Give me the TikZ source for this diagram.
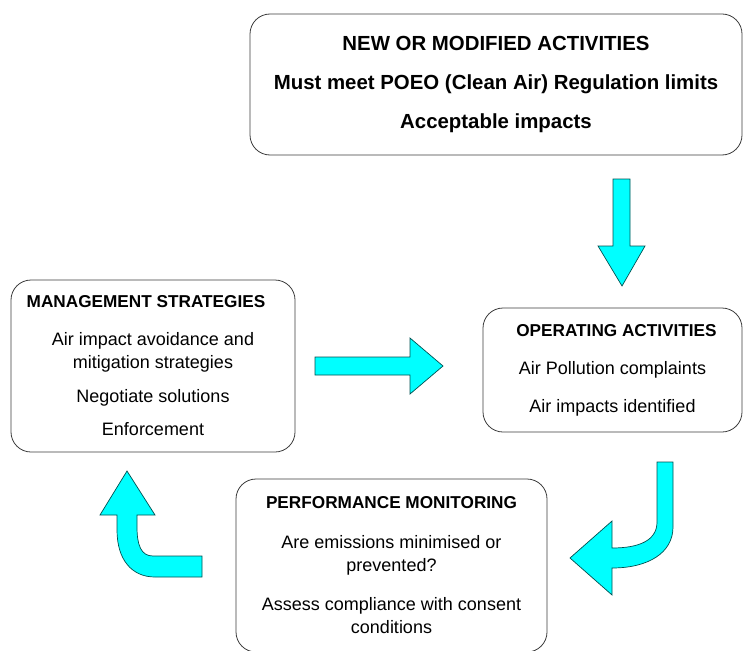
\documentclass[tikz,border=0pt]{standalone}
\usepackage{fontspec}
\setmainfont{Liberation Sans}
\definecolor{arrowfill}{RGB}{0,255,255}
\definecolor{arrowline}{RGB}{0,80,80}
\definecolor{boxline}{RGB}{60,60,60}
\newcommand{\boxtitle}[1]{{\fontsize{17.2}{23}\selectfont\bfseries #1}}
\begin{document}
\begin{tikzpicture}[x=1pt,y=-1pt,
  box/.style={draw=boxline, line width=0.8pt, rounded corners=20pt, fill=white,
    align=center, inner sep=0pt, font=\fontsize{18}{23}\selectfont},
  topbox/.style={box, font=\fontsize{20.4}{24}\selectfont\bfseries},
  blockarrow/.style={fill=arrowfill, draw=arrowline, line width=0.7pt, line join=miter}
]
\useasboundingbox (0,0) rectangle (743,650);

\node[topbox, minimum width=492pt, minimum height=141pt] (new) at (496,84.5)
  {NEW OR MODIFIED ACTIVITIES\\[15pt]
   Must meet POEO (Clean Air) Regulation limits\\[15pt]
   Acceptable impacts};

\node[box, minimum width=284pt, minimum height=172pt] (mgmt) at (153,366)
  {\boxtitle{MANAGEMENT STRATEGIES}\hspace*{14pt}\\[15pt]
   Air impact avoidance and\\
   mitigation strategies\\[11pt]
   Negotiate solutions\\[10pt]
   Enforcement};

\node[box, minimum width=259pt, minimum height=124pt] (oper) at (612.5,370)
  {\hspace*{8pt}\boxtitle{OPERATING ACTIVITIES}\\[15pt]
   Air Pollution complaints\\[15pt]
   Air impacts identified};

\node[box, minimum width=311pt, minimum height=173pt] (perf) at (391.5,565.5)
  {\boxtitle{PERFORMANCE MONITORING}\\[17pt]
   Are emissions minimised or\\
   prevented?\\[16pt]
   Assess compliance with consent\\
   conditions};

% down arrow: new -> oper
\draw[blockarrow] (613,179) -- (630,179) -- (630,246) -- (645,246) -- (622,286)
  -- (598,246) -- (613,246) -- cycle;

% right arrow: mgmt -> oper
\draw[blockarrow] (315,357) -- (410,357) -- (410,338) -- (443,366) -- (410,394)
  -- (410,375) -- (315,375) -- cycle;

% curved arrow: oper -> perf
\draw[blockarrow] (657,462) -- (673,462) -- (673,527)
  .. controls (673,553) and (648,568) .. (612,568) -- (612,595) -- (570,558)
  -- (612,521) -- (612,548) .. controls (640,548) and (657,540) .. (657,522) -- cycle;

% curved arrow: perf -> mgmt
\draw[blockarrow] (202,556) -- (153,556) .. controls (141,556) and (137,545) .. (137,527)
  -- (137,515) -- (155,515) -- (127,471) -- (100,515) -- (117,515) -- (117,530)
  .. controls (117,560) and (132,577) .. (155,577) -- (202,577) -- cycle;
\end{tikzpicture}
\end{document}
